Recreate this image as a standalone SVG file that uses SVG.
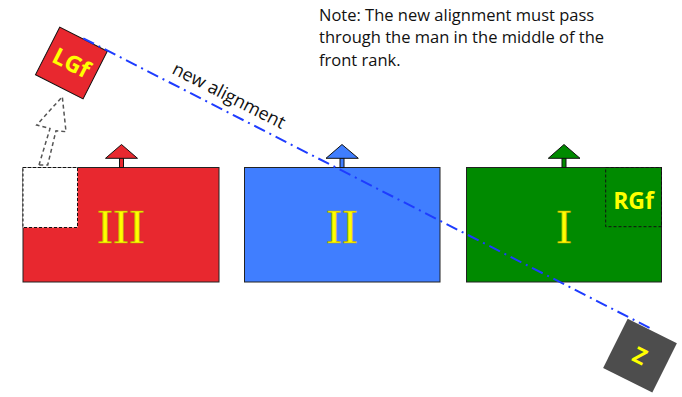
<svg xmlns="http://www.w3.org/2000/svg" width="682" height="397" viewBox="0 0 682 397">
<style>
.box{stroke:#222;stroke-width:1}
.tri{stroke:#111;stroke-width:1}
.num{font-family:"Liberation Serif",serif;font-size:48px;fill:#FFFF00;stroke:#B8A000;stroke-width:0.7;text-anchor:middle}
.lbl{font-family:"Open Sans","Liberation Sans",sans-serif;font-weight:bold;fill:#FFFF00;text-anchor:middle}
.note{font-family:"Open Sans","Liberation Sans",sans-serif;fill:#111}
.dash{stroke:#111;stroke-width:1;stroke-dasharray:3 2}
</style>
<rect width="682" height="397" fill="#fff"/>
<g id="unit3">
<rect class="box" x="23" y="167.5" width="196" height="114.5" fill="#E8282F"/>
<rect class="dash" x="23" y="167.5" width="54.5" height="60" fill="#fff"/>
<rect class="tri" x="119.5" y="158" width="4" height="9.5" fill="#E8282F"/>
<polygon class="tri" points="121.5,144.5 105.5,158.3 137.5,158.3" fill="#E8282F"/>
<text class="num" x="121" y="242.5">III</text>
</g>
<g id="unit2">
<rect class="box" x="244.5" y="167.5" width="195.5" height="114.5" fill="#407EFF"/>
<rect class="tri" x="340" y="158" width="4" height="9.5" fill="#407EFF"/>
<polygon class="tri" points="342,144.5 326,158.3 358.3,158.3" fill="#407EFF"/>
<text class="num" x="342" y="242.5">II</text>
</g>
<g id="unit1">
<rect class="box" x="466.5" y="167.5" width="195" height="114.5" fill="#008A00"/>
<rect class="tri" x="562" y="158" width="4" height="9.5" fill="#008A00"/>
<polygon class="tri" points="564,144.5 548.3,158.3 580,158.3" fill="#008A00"/>
<text class="num" x="564" y="242.5">I</text>
<rect class="dash" x="605.7" y="167.5" width="55.8" height="59.2" fill="none"/>
<text class="lbl" x="633.5" y="208.5" style="font-size:23px">RGf</text>
</g>
<g id="LGf" transform="translate(71.4,63) rotate(27)">
<rect x="-26.7" y="-26.7" width="53.4" height="53.4" fill="#E8282F" stroke="#111" stroke-width="1"/>
<text class="lbl" x="0" y="8" style="font-size:23px">LGf</text>
</g>
<g id="Z" transform="translate(640,355.6) rotate(26.5)">
<rect x="-27.5" y="-27.5" width="55" height="55" fill="#4D4D4D"/>
<text class="lbl" x="0" y="8" style="font-size:22px">Z</text>
</g>
<g id="connectors">
<polygon points="39,165 50,128.5 36.7,125 62.3,96.7 66,131.7 56,130.7 47.7,165" fill="none" stroke="#555" stroke-width="1.5" stroke-dasharray="4 3"/>
<line x1="83.3" y1="38.3" x2="651.7" y2="329" stroke="#1E3CFF" stroke-width="2" stroke-dasharray="12 5 2 5"/>
<text class="note" style="font-size:18px" transform="translate(171,73) rotate(27)">new alignment</text>
</g>
<g id="note" class="note" style="font-size:16.5px">
<text x="319" y="20.5">Note: The new alignment must pass</text>
<text x="319" y="43">through the man in the middle of the</text>
<text x="319" y="65.5">front rank.</text>
</g>
</svg>
